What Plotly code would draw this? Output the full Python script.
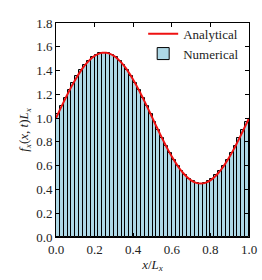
import plotly.graph_objects as go

# Histogram bins (centers) and heights
bin_centers = [0.01 + 0.02 * i for i in range(50)]
bin_heights = [
    1.035, 1.103, 1.170, 1.234, 1.295, 1.351, 1.401, 1.445, 1.482, 1.511,
    1.533, 1.546, 1.550, 1.546, 1.533, 1.511, 1.482, 1.445, 1.401, 1.351,
    1.295, 1.234, 1.170, 1.103, 1.035, 0.965, 0.897, 0.830, 0.766, 0.705,
    0.649, 0.599, 0.555, 0.518, 0.489, 0.467, 0.454, 0.450, 0.454, 0.467,
    0.489, 0.518, 0.555, 0.599, 0.649, 0.705, 0.766, 0.830, 0.897, 0.965,
]

# Analytical curve samples
line_x = [0.02 * k for k in range(51)]
line_y = [
    1.000, 1.069, 1.137, 1.202, 1.265, 1.323, 1.376, 1.424, 1.464, 1.498,
    1.523, 1.540, 1.549, 1.549, 1.540, 1.523, 1.498, 1.464, 1.424, 1.376,
    1.323, 1.265, 1.202, 1.137, 1.069, 1.000, 0.931, 0.863, 0.798, 0.735,
    0.677, 0.624, 0.576, 0.536, 0.502, 0.477, 0.460, 0.451, 0.451, 0.460,
    0.477, 0.502, 0.536, 0.576, 0.624, 0.677, 0.735, 0.798, 0.863, 0.931,
    1.000,
]

tick_vals_x = [0.0, 0.2, 0.4, 0.6, 0.8, 1.0]
tick_vals_y = [0.0, 0.2, 0.4, 0.6, 0.8, 1.0, 1.2, 1.4, 1.6, 1.8]

font_family = "Liberation Serif"
fs = 13

fig = go.Figure()
fig.add_trace(go.Bar(
    x=bin_centers, y=bin_heights, width=0.02,
    marker=dict(color="#add8e6", line=dict(color="black", width=1)),
    name="Numerical", legendrank=2,
))
fig.add_trace(go.Scatter(
    x=line_x, y=line_y, mode="lines", line=dict(color="#ee1111", width=2, shape="spline"),
    name="Analytical", legendrank=1,
))

axis_common = dict(
    showgrid=False, zeroline=False, showline=True, linecolor="black", linewidth=1,
    mirror="ticks", ticks="inside", ticklen=4, tickwidth=1, tickcolor="black",
    tickformat=".1f", tickfont=dict(family=font_family, size=fs, color="#222"),
    automargin=False,
)

fig.update_layout(
    width=262, height=280,
    margin=dict(l=56, r=13, t=23, b=43),
    paper_bgcolor="white", plot_bgcolor="white",
    bargap=0,
    font=dict(family=font_family, size=fs, color="#222"),
    showlegend=True,
    legend=dict(x=0.975, y=1.02, xanchor="right", yanchor="top",
                bgcolor="rgba(255,255,255,0)", borderwidth=0,
                font=dict(family=font_family, size=fs),
                itemwidth=30, tracegroupgap=0),
    xaxis=dict(range=[0, 1], tickvals=tick_vals_x,
               title=dict(text="<i>x</i>/<i>L</i><sub><i>x</i></sub>", standoff=2,
                          font=dict(family=font_family, size=fs)),
               **axis_common),
    yaxis=dict(range=[0, 1.8], tickvals=tick_vals_y,
               title=dict(text="<i>f</i><sub><i>x</i></sub>(<i>x</i>, <i>t</i>)<i>L</i><sub><i>x</i></sub>",
                          standoff=4, font=dict(family=font_family, size=fs)),
               **axis_common),
)

fig.write_html(
    "out.html",
    config={"displayModeBar": False},
    post_script="document.body.style.margin='0';document.body.style.overflow='hidden';",
)
